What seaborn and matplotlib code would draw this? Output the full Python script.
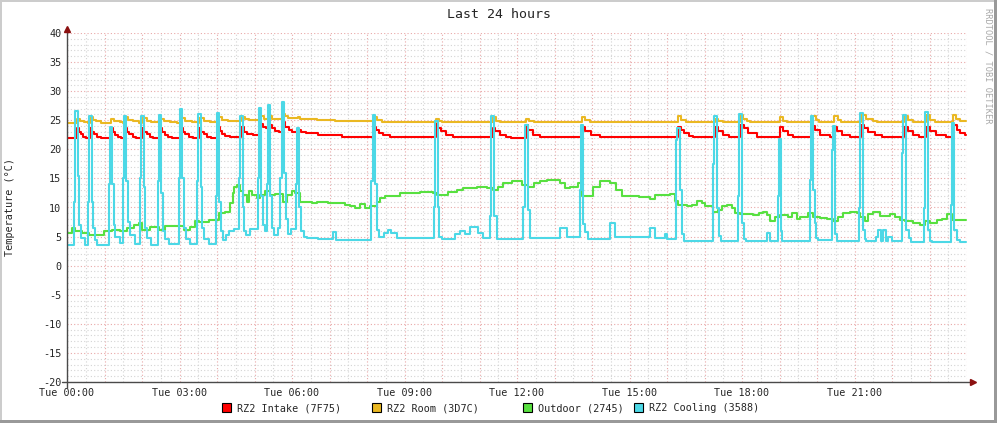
import pandas as pd
import matplotlib.pyplot as plt
import seaborn as sns
from matplotlib.patches import Rectangle
from matplotlib.ticker import MultipleLocator

# hours after Tue 00:00 and temperatures (°C)
intake_h = [0.00, 0.26, 0.31, 0.36, 0.42, 0.50, 0.61, 0.66, 0.72, 0.80, 0.90,
            1.17, 1.22, 1.28, 1.36, 1.45, 1.55, 1.60, 1.66, 1.75, 1.85,
            2.01, 2.06, 2.12, 2.20, 2.30, 2.48, 2.53, 2.60, 2.68, 2.80,
            3.04, 3.09, 3.15, 3.24, 3.35, 3.53, 3.58, 3.64, 3.72, 3.85,
            4.03, 4.08, 4.14, 4.22, 4.35, 4.65, 4.71, 4.80, 4.95,
            5.15, 5.22, 5.30, 5.39, 5.47, 5.55, 5.65, 5.75, 5.82, 5.92, 6.00,
            6.16, 6.25, 6.36, 6.68, 7.33,
            8.19, 8.24, 8.31, 8.42, 8.60, 8.90,
            9.84, 9.90, 9.98, 10.10, 10.30, 10.50,
            11.35, 11.42, 11.55, 11.70, 11.85,
            12.24, 12.30, 12.42, 12.60, 12.80,
            13.74, 13.82, 13.98, 14.20, 14.50,
            16.30, 16.36, 16.45, 16.58, 16.70,
            17.29, 17.37, 17.50, 17.65, 17.95, 18.04, 18.17, 18.40,
            19.01, 19.10, 19.23, 19.36, 19.86, 19.95, 20.08, 20.35,
            20.45, 20.52, 20.66, 20.88, 21.18, 21.25, 21.37, 21.55, 21.73,
            22.33, 22.42, 22.55, 22.73, 22.91, 23.00, 23.18, 23.44,
            23.62, 23.73, 23.82, 23.95, 23.98]
intake_v = [22.0, 23.6, 23.0, 22.6, 22.2, 22.0, 23.6, 23.0, 22.6, 22.2, 22.0,
            23.6, 23.0, 22.5, 22.2, 22.0, 23.6, 23.0, 22.6, 22.2, 22.0,
            23.6, 23.0, 22.6, 22.2, 22.0, 23.6, 23.0, 22.5, 22.1, 21.9,
            23.6, 23.0, 22.6, 22.2, 22.0, 23.6, 23.0, 22.6, 22.2, 22.0,
            23.9, 23.2, 22.7, 22.3, 22.2, 23.9, 23.0, 22.6, 22.5,
            24.4, 23.8, 23.6, 24.1, 23.6, 23.2, 23.0, 24.7, 23.9, 23.3, 23.0,
            23.3, 23.0, 22.8, 22.5, 22.1,
            23.8, 23.4, 22.8, 22.5, 22.2, 22.1,
            24.4, 23.7, 23.1, 22.5, 22.2, 22.1,
            23.7, 23.1, 22.5, 22.2, 22.0,
            24.2, 23.4, 22.5, 22.2, 22.1,
            23.9, 23.1, 22.5, 22.2, 22.1,
            23.8, 23.4, 22.8, 22.3, 22.2,
            23.8, 23.1, 22.5, 22.2, 24.1, 23.6, 22.8, 22.2,
            23.8, 23.1, 22.5, 22.2, 24.0, 23.4, 22.5, 22.2,
            23.8, 23.1, 22.5, 22.1, 24.2, 23.6, 22.9, 22.5, 22.2,
            23.8, 23.1, 22.5, 22.2, 23.8, 23.1, 22.5, 22.1,
            24.2, 23.4, 22.8, 22.5, 22.5]

room_h = [0.00, 0.26, 0.35, 0.45, 0.55, 0.61, 0.69, 0.78, 0.90,
          1.17, 1.26, 1.40, 1.50, 1.55, 1.63, 1.76, 1.92,
          2.01, 2.12, 2.25, 2.44, 2.48, 2.58, 2.75, 2.92,
          3.04, 3.15, 3.33, 3.50, 3.53, 3.66, 3.80, 4.00,
          4.03, 4.12, 4.30, 4.65, 4.74, 4.86,
          5.15, 5.25, 5.39, 5.47, 5.75, 5.80, 5.90,
          6.16, 6.21, 6.40, 6.66, 7.15,
          8.19, 8.27, 8.40, 9.84, 9.92, 10.00,
          11.35, 11.43, 11.55, 12.24, 12.33, 12.45,
          13.74, 13.82, 13.95, 16.30, 16.37, 16.50,
          17.29, 17.37, 17.50, 17.95, 18.02, 18.12, 18.22,
          19.01, 19.10, 19.20, 19.86, 19.96, 20.05,
          20.45, 20.55, 20.65, 21.18, 21.30, 21.48, 21.60,
          22.33, 22.42, 22.55, 22.91, 23.02, 23.15,
          23.62, 23.71, 23.80, 23.98]
room_v = [24.6, 25.2, 24.9, 24.7, 24.6, 25.6, 25.0, 24.8, 24.6,
          25.3, 24.9, 24.7, 24.6, 25.6, 25.0, 24.8, 24.6,
          25.4, 24.9, 24.7, 24.6, 25.3, 24.9, 24.7, 24.6,
          25.4, 24.9, 24.7, 24.6, 25.4, 24.9, 24.7, 24.6,
          25.6, 25.0, 24.8, 25.6, 25.2, 25.05,
          25.8, 25.3, 25.7, 25.3, 26.1, 25.7, 25.4,
          25.5, 25.3, 25.2, 25.05, 24.8,
          25.6, 25.1, 24.75, 25.3, 24.9, 24.7,
          25.6, 24.9, 24.7, 25.3, 24.8, 24.65,
          25.5, 25.0, 24.75, 25.7, 25.0, 24.7,
          25.3, 24.9, 24.7, 25.9, 25.2, 24.8, 24.7,
          25.5, 24.9, 24.7, 25.7, 25.0, 24.7,
          25.7, 25.0, 24.7, 25.9, 25.2, 24.8, 24.7,
          25.7, 25.0, 24.7, 25.9, 25.0, 24.7,
          25.9, 25.2, 24.9, 24.85]

outdoor_h = [0.00, 0.13, 0.22, 0.40, 0.58, 0.98, 1.20, 1.42, 1.60, 1.78, 1.91,
             2.00, 2.22, 2.44, 2.62, 2.93, 3.11, 3.29, 3.42, 3.51, 3.78,
             4.04, 4.22, 4.35, 4.42, 4.46, 4.52, 4.61, 4.70, 4.79, 4.84, 4.92,
             5.06, 5.15, 5.28, 5.41, 5.55, 5.77, 5.86, 5.99, 6.08, 6.21, 6.30,
             6.52, 6.66, 6.79, 6.97, 7.19, 7.41, 7.55, 7.68, 7.81, 7.95, 8.08,
             8.26, 8.35, 8.48, 8.88, 9.41, 9.77, 9.86, 10.17, 10.39, 10.57,
             10.93, 11.19, 11.37, 11.50, 11.63, 11.86, 12.12, 12.30, 12.44,
             12.61, 12.79, 13.15, 13.28, 13.41, 13.63, 13.72, 14.03, 14.21,
             14.48, 14.65, 14.79, 15.24, 15.55, 15.68, 15.81, 16.08, 16.21,
             16.30, 16.52, 16.66, 16.79, 16.92, 17.01, 17.15, 17.24, 17.37,
             17.46, 17.59, 17.72, 17.81, 17.95, 18.30, 18.44, 18.57, 18.66,
             18.75, 18.88, 19.01, 19.23, 19.32, 19.46, 19.55, 19.77, 19.90,
             20.08, 20.26, 20.43, 20.57, 20.70, 20.88, 21.06, 21.15, 21.28,
             21.37, 21.50, 21.68, 21.95, 22.08, 22.21, 22.35, 22.57, 22.75,
             22.88, 23.01, 23.19, 23.32, 23.46, 23.59, 23.72, 23.98]
outdoor_v = [5.6, 6.4, 5.9, 5.6, 5.3, 5.9, 6.1, 5.9, 6.4, 7.0, 7.4,
             6.1, 6.7, 6.1, 6.8, 6.8, 6.1, 6.7, 7.6, 7.5, 7.9,
             9.0, 9.2, 10.8, 12.5, 13.6, 13.9, 12.8, 12.2, 11.0, 12.8, 12.2,
             11.6, 12.2, 12.8, 12.2, 12.4, 11.0, 12.2, 12.8, 12.5, 11.0, 10.9,
             10.7, 11.0, 10.9, 10.8, 10.7, 10.5, 10.2, 9.9, 10.6, 9.9, 10.2,
             11.0, 11.6, 11.9, 12.5, 12.7, 12.5, 12.2, 12.7, 13.0, 13.3,
             13.6, 13.3, 13.0, 13.6, 14.2, 14.5, 13.9, 13.6, 14.2,
             14.6, 14.7, 14.2, 13.3, 13.6, 14.2, 11.9, 13.6, 14.5,
             14.2, 13.0, 11.9, 11.8, 11.5, 12.2, 12.2, 12.4, 11.2,
             10.5, 10.2, 10.5, 11.2, 10.7, 10.2, 10.3, 9.3, 9.6,
             10.2, 10.5, 9.9, 9.0, 8.8, 8.7, 9.0, 9.3, 8.7,
             7.6, 8.4, 8.7, 8.4, 9.0, 8.1, 8.4, 9.0, 8.4,
             8.2, 8.1, 7.6, 8.4, 9.0, 9.3, 9.0, 8.4, 7.6,
             8.8, 9.2, 8.6, 8.8, 8.4, 7.9, 7.6, 7.3, 7.0,
             7.6, 7.3, 7.9, 8.1, 8.8, 7.9, 7.9, 7.9]

cooling_h = [0.00, 0.18, 0.21, 0.28, 0.33, 0.37, 0.47,
             0.56, 0.59, 0.66, 0.70, 0.74, 0.80,
             1.11, 1.14, 1.20, 1.24, 1.28, 1.40,
             1.49, 1.52, 1.58, 1.63, 1.67, 1.80,
             1.95, 1.98, 2.04, 2.09, 2.13, 2.25,
             2.42, 2.45, 2.51, 2.56, 2.60, 2.72,
             2.98, 3.01, 3.07, 3.12, 3.16, 3.28,
             3.47, 3.50, 3.56, 3.61, 3.65, 3.78,
             3.97, 4.00, 4.06, 4.11, 4.16, 4.24, 4.32, 4.46,
             4.59, 4.62, 4.68, 4.72, 4.78, 4.88,
             5.08, 5.12, 5.18, 5.22, 5.28,
             5.33, 5.36, 5.42, 5.46, 5.52, 5.62,
             5.69, 5.72, 5.78, 5.83, 5.88, 5.96,
             6.10, 6.13, 6.19, 6.24, 6.32, 6.40, 6.68, 7.08, 7.16,
             8.11, 8.15, 8.22, 8.27, 8.32, 8.46, 8.55, 8.64, 8.80,
             9.78, 9.82, 9.88, 9.92, 10.00, 10.35, 10.48, 10.60, 10.75, 10.95, 11.10,
             11.27, 11.31, 11.38, 11.46,
             12.17, 12.21, 12.28, 12.34, 13.15, 13.32,
             13.68, 13.71, 13.77, 13.82, 13.90, 14.48, 14.62, 15.55, 15.68,
             15.94, 15.99,
             16.23, 16.27, 16.34, 16.40, 16.46,
             17.22, 17.26, 17.33, 17.38, 17.44,
             17.90, 17.93, 17.99, 18.04, 18.10, 18.66, 18.75,
             18.96, 18.98, 19.04, 19.08,
             19.80, 19.83, 19.90, 19.94, 19.98, 20.02,
             20.39, 20.42, 20.48, 20.52,
             21.12, 21.15, 21.22, 21.28, 21.30,
             21.56, 21.62, 21.71, 21.77, 21.84, 21.90, 22.00,
             22.26, 22.30, 22.37, 22.44, 22.50,
             22.85, 22.88, 22.95, 23.02, 23.06,
             23.56, 23.59, 23.66, 23.74, 23.80, 23.98]
cooling_v = [3.6, 11.0, 26.6, 15.5, 7.0, 4.8, 3.6,
             11.0, 25.8, 11.0, 6.5, 4.4, 3.5,
             14.0, 23.9, 14.0, 7.0, 5.0, 3.9,
             15.0, 25.7, 14.5, 7.5, 5.2, 3.8,
             15.0, 25.7, 13.5, 6.5, 4.8, 3.6,
             14.5, 25.9, 12.5, 6.0, 4.5, 3.7,
             15.0, 26.9, 15.0, 6.5, 4.5, 3.8,
             14.5, 26.1, 13.5, 6.5, 4.5, 3.8,
             12.0, 26.3, 11.0, 6.0, 4.4, 5.2, 5.9, 6.3,
             15.0, 25.8, 10.0, 6.0, 5.3, 6.3,
             15.0, 27.1, 12.0, 7.0, 6.0,
             14.0, 27.6, 12.0, 6.5, 5.2, 6.5,
             15.0, 28.2, 16.0, 8.0, 5.5, 6.3,
             14.0, 23.6, 10.0, 6.0, 5.0, 4.7, 4.5, 5.8, 4.4,
             14.5, 25.9, 14.0, 6.2, 5.0, 5.6, 6.1, 5.6, 4.8,
             10.0, 24.8, 10.0, 5.0, 4.6, 5.5, 6.0, 5.4, 6.6, 5.6, 4.7,
             8.6, 25.7, 8.5, 4.5,
             10.0, 24.2, 9.5, 4.7, 6.4, 5.0,
             13.0, 24.2, 7.2, 5.8, 4.6, 7.3, 5.0, 6.4, 4.7,
             5.4, 4.5,
             21.6, 23.6, 13.0, 5.5, 4.3,
             17.5, 25.7, 9.9, 5.1, 4.3,
             12.0, 26.1, 7.3, 4.5, 4.3, 5.6, 4.2,
             12.0, 21.7, 6.0, 4.2,
             14.7, 25.7, 13.0, 7.3, 4.8, 4.4,
             19.8, 24.0, 5.5, 4.3,
             9.9, 26.2, 6.1, 4.5, 4.2,
             5.0, 6.1, 4.2, 6.1, 4.2, 5.0, 4.2,
             19.4, 25.9, 6.1, 4.8, 4.0,
             9.9, 26.4, 6.1, 4.2, 4.0,
             10.5, 24.5, 6.1, 4.4, 4.0, 4.0]

series_names = ['RZ2 Intake (7F75)', 'RZ2 Room (3D7C)', 'Outdoor (2745)', 'RZ2 Cooling (3588)']
series_colors = ['#FF0000', '#EAB822', '#58E040', '#4CD8E6']
tick_hours = [0, 3, 6, 9, 12, 15, 18, 21]
tick_labels = ['Tue 00:00', 'Tue 03:00', 'Tue 06:00', 'Tue 09:00',
               'Tue 12:00', 'Tue 15:00', 'Tue 18:00', 'Tue 21:00']

frames = []
for name, hrs, vals in zip(series_names,
                           [intake_h, room_h, outdoor_h, cooling_h],
                           [intake_v, room_v, outdoor_v, cooling_v]):
    frames.append(pd.DataFrame({'hour': hrs, 'temp': vals, 'series': name}))
df = pd.concat(frames, ignore_index=True)

sns.set_style('white')
plt.rcParams['font.family'] = ['DejaVu Sans Mono', 'DejaVu Sans']

W, H = 997, 423
fig = plt.figure(figsize=(W / 100, H / 100), dpi=100)
fig.patch.set_facecolor('white')
ax = fig.add_axes([67 / W, 41 / H, 900 / W, 349 / H])
ax.set_facecolor('white')

sns.lineplot(data=df, x='hour', y='temp', hue='series', hue_order=series_names,
             palette=series_colors, drawstyle='steps-post', estimator=None,
             linewidth=1.5, legend=False, ax=ax)

ax.set_xlim(0, 24)
ax.set_ylim(-20, 40)
ax.xaxis.set_major_locator(MultipleLocator(1))
ax.xaxis.set_minor_locator(MultipleLocator(0.5))
ax.yaxis.set_major_locator(MultipleLocator(5))
ax.yaxis.set_minor_locator(MultipleLocator(1))
lab = dict(zip(tick_hours, tick_labels))
ax.set_xticklabels([lab.get(int(t), '') if t == int(t) else '' for t in ax.get_xticks()])
ax.set_yticklabels([f'{int(t)}' for t in ax.get_yticks()])
ax.set_axisbelow(True)
ax.grid(which='major', color='#E9A8A8', linestyle=(0, (1, 2)), linewidth=0.8)
ax.grid(which='minor', color='#D4D4D4', linestyle=(0, (1, 2)), linewidth=0.8)
ax.tick_params(axis='both', which='major', labelsize=7.3, length=2.5, width=0.8,
               color='#555555', direction='out', pad=1.5)
ax.tick_params(axis='both', which='minor', length=0)
ax.set_xlabel('')
ax.set_ylabel('')
for s in ax.spines.values():
    s.set_visible(False)

# axes with arrow heads, rrdtool style
ax.plot([-0.006, 1.006], [0, 0], transform=ax.transAxes, color='#4a4a4a',
        lw=1.0, clip_on=False, zorder=5)
ax.plot([0, 0], [-0.017, 1.011], transform=ax.transAxes, color='#4a4a4a',
        lw=1.0, clip_on=False, zorder=5)
ax.plot([1.007], [0], marker='>', ms=5, color='#8B1010', transform=ax.transAxes,
        clip_on=False, zorder=6)
ax.plot([0], [1.012], marker='^', ms=5, color='#8B1010', transform=ax.transAxes,
        clip_on=False, zorder=6)

fig.text(0.5, 1 - 14 / H, 'Last 24 hours', ha='center', va='center', fontsize=9.5)
fig.text(10 / W, 1 - 207 / H, 'Temperature (°C)', ha='center', va='center',
         rotation=90, fontsize=7.3)
fig.text(988 / W, 1 - 8 / H, 'RRDTOOL / TOBI OETIKER', ha='center', va='top',
         rotation=270, fontsize=6.2, color='#A8A8A8')

# legend
box_x = [222, 372, 523, 634]
for x0, name, col in zip(box_x, series_names, series_colors):
    fig.add_artist(Rectangle((x0 / W, 1 - 412 / H), 9 / W, 9 / H,
                             transform=fig.transFigure, facecolor=col,
                             edgecolor='black', linewidth=0.8))
    fig.text((x0 + 15) / W, 1 - 408 / H, name, ha='left', va='center', fontsize=7.3)

# 3d border around the image
fig.add_artist(Rectangle((0, 0), 2 / W, 1, transform=fig.transFigure, color='#CCCCCC', lw=0))
fig.add_artist(Rectangle((0, 1 - 2 / H), 1, 2 / H, transform=fig.transFigure, color='#CCCCCC', lw=0))
fig.add_artist(Rectangle((1 - 3 / W, 0), 3 / W, 1, transform=fig.transFigure, color='#999999', lw=0))
fig.add_artist(Rectangle((0, 0), 1, 3 / H, transform=fig.transFigure, color='#999999', lw=0))

fig.savefig('out.png', dpi=100)
